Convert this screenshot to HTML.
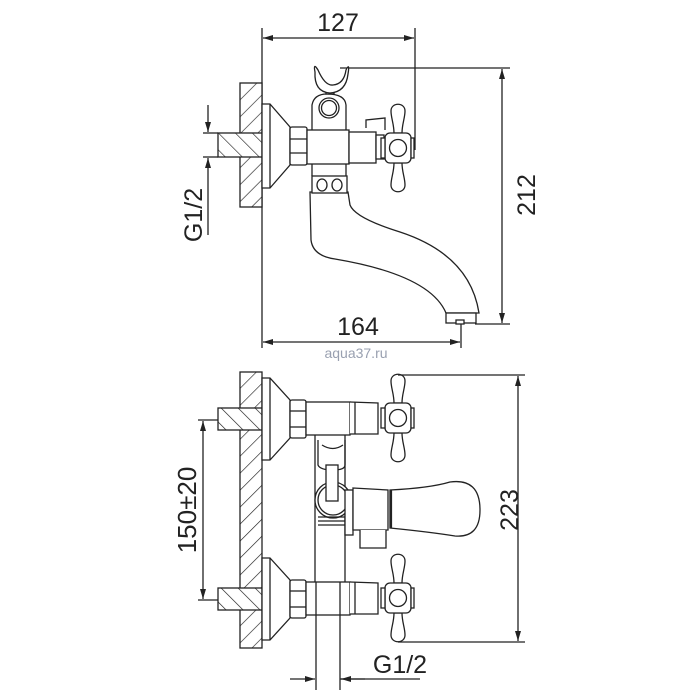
<!DOCTYPE html>
<html><head><meta charset="utf-8"><style>
html,body{margin:0;padding:0;background:#fff;}
svg{display:block;}
text{font-family:"Liberation Sans",sans-serif;fill:#222;}
</style></head><body>
<svg width="700" height="700" viewBox="0 0 700 700" xmlns="http://www.w3.org/2000/svg">
<defs>
<pattern id="h" patternUnits="userSpaceOnUse" width="12" height="12" patternTransform="rotate(45)">
<rect width="12" height="12" fill="#fff"/><line x1="0" y1="0" x2="0" y2="12" stroke="#222" stroke-width="1.3"/>
</pattern>
<pattern id="h2" patternUnits="userSpaceOnUse" width="12" height="12" patternTransform="rotate(-45)">
<rect width="12" height="12" fill="#fff"/><line x1="0" y1="0" x2="0" y2="12" stroke="#222" stroke-width="1.3"/>
</pattern>
<g id="cross">
<path d="M-4,-15 C-4,-24 -7,-30 -7,-37 C-7,-46 7,-46 7,-37 C7,-30 4,-24 4,-15 Z" fill="#fff"/>
<path d="M-4,15 C-4,24 -7,30 -7,37 C-7,46 7,46 7,37 C7,30 4,24 4,15 Z" fill="#fff"/>
<rect x="-13" y="-15" width="26" height="30" rx="5" fill="#fff"/>
<circle r="8.5" fill="#fff"/>
<rect x="13" y="-10" width="3" height="20" fill="#fff"/>
<rect x="-17" y="-10" width="4" height="20" fill="#fff"/>
</g>
<g id="flangeSet">
<rect x="218" y="0" width="44" height="22" fill="url(#h2)"/>
<path d="M262,-30 L270,-30 L290,-8 L290,30 L270,52 L262,52 Z" fill="#fff"/>
<line x1="270" y1="-30" x2="270" y2="52"/>
<rect x="290" y="-8" width="16" height="38" rx="2" fill="#fff"/>
<line x1="290" y1="3" x2="306" y2="3"/><line x1="290" y1="19" x2="306" y2="19"/>
</g>
<marker id="a" viewBox="0 0 10 6" refX="10" refY="3" markerWidth="10" markerHeight="6" orient="auto-start-reverse" markerUnits="userSpaceOnUse">
<path d="M0,0 L10,3 L0,6 Z" fill="#222"/></marker>
</defs>
<g stroke="#222" stroke-width="1.3" fill="none">
<line x1="262" y1="28" x2="262" y2="348"/>
<line x1="415" y1="28" x2="415" y2="150"/>
<line x1="263" y1="38" x2="414" y2="38" marker-start="url(#a)" marker-end="url(#a)"/>
<line x1="340" y1="68" x2="510" y2="68"/>
<line x1="475" y1="324" x2="510" y2="324"/>
<line x1="502" y1="69" x2="502" y2="323" marker-start="url(#a)" marker-end="url(#a)"/>
<line x1="461" y1="318" x2="461" y2="348"/>
<line x1="263" y1="342" x2="460" y2="342" marker-start="url(#a)" marker-end="url(#a)"/>
<line x1="203" y1="133" x2="218" y2="133"/><line x1="203" y1="157" x2="218" y2="157"/>
<line x1="208" y1="105" x2="208" y2="132" marker-end="url(#a)"/>
<line x1="208" y1="235" x2="208" y2="158" marker-end="url(#a)"/>
<rect x="240" y="83" width="22" height="124" fill="url(#h)"/>
<rect x="218" y="133" width="44" height="24" fill="url(#h2)"/>
<path d="M262,104 L270,104 L290,127 L290,165 L270,188 L262,188 Z" fill="#fff"/>
<line x1="270" y1="104" x2="270" y2="188"/>
<rect x="290" y="127" width="17" height="38" rx="2" fill="#fff"/>
<line x1="290" y1="139" x2="307" y2="139"/><line x1="290" y1="153" x2="307" y2="153"/>
<path d="M310,192 L311,240 Q313,256 335,259 Q430,275 446,313 L479,313 Q470,255 400,232 Q355,218 350,205 L348,192 Z" fill="#fff"/>
<rect x="446" y="313" width="30" height="10" fill="#fff"/>
<rect x="456" y="320" width="8" height="4" fill="#fff"/>
<rect x="312" y="176" width="35" height="17" fill="#fff"/>
<ellipse cx="322" cy="185" rx="5" ry="6"/><ellipse cx="337" cy="185" rx="5" ry="6"/>
<path d="M312,130 L312,105 Q314,94 327,94 Q345,94 346,105 L346,130" fill="#fff"/>
<circle cx="329" cy="108" r="10"/><circle cx="329" cy="108" r="7.5"/>
<rect x="326" y="86" width="8" height="8" fill="#fff"/>
<path d="M315,72 Q313,62 318,70 Q325,86 333,85 Q344,84 346,70 Q350,62 348,74 Q346,92 330,93 Q314,92 315,72 Z" fill="#fff"/>
<rect x="307" y="130" width="42" height="34" fill="#fff"/>
<path d="M312,164 L312,176 M346,164 L346,176"/>
<rect x="349" y="132" width="27" height="31" fill="#fff"/>
<path d="M366,128 L366,120 L385,118 L385,130" fill="#fff"/>
<rect x="376" y="135" width="8" height="24" fill="#fff"/>
<use href="#cross" x="398" y="148"/>
<rect x="240" y="372" width="22" height="276" fill="url(#h)"/>
<use href="#flangeSet" x="0" y="408"/>
<use href="#flangeSet" x="0" y="588"/>
<rect x="306" y="402" width="44" height="33" fill="#fff"/>
<path d="M350,402 L378,403 L378,434 L350,434" fill="#fff"/>
<line x1="355" y1="402" x2="355" y2="434"/>
<use href="#cross" x="398" y="418"/>
<rect x="306" y="582" width="44" height="33" fill="#fff"/>
<path d="M350,582 L378,583 L378,614 L350,614" fill="#fff"/>
<line x1="355" y1="582" x2="355" y2="614"/>
<use href="#cross" x="398" y="598"/>
<path d="M315,435 L315,582 M345,435 L345,582"/>
<path d="M318,440 L318,465 Q320,470 333,470 Q345,470 345,465 L345,440"/>
<path d="M322,445 Q333,452 343,445"/>
<circle cx="333" cy="500" r="18" fill="#fff"/><circle cx="333" cy="500" r="15"/>
<rect x="326" y="465" width="12" height="36" fill="#fff"/>
<path d="M318,517 L347,517 M318,521 L347,521 M318,525 L347,525"/>
<line x1="316" y1="582" x2="316" y2="690"/><line x1="340" y1="582" x2="340" y2="690"/>
<rect x="345" y="490" width="8" height="45" fill="#fff"/>
<path d="M353,488 L388,490 L388,530 L353,530 Z" fill="#fff"/>
<path d="M360,530 L360,548 L386,548 L386,530" fill="#fff"/>
<path d="M390,490 Q430,488 450,482 Q480,478 480,510 Q480,538 455,536 Q430,532 390,528 Z" fill="#fff"/>
<line x1="391" y1="490" x2="391" y2="528" stroke-width="2.2"/>
<line x1="398" y1="375" x2="525" y2="375"/>
<line x1="398" y1="642" x2="525" y2="642"/>
<line x1="518" y1="376" x2="518" y2="641" marker-start="url(#a)" marker-end="url(#a)"/>
<line x1="198" y1="420" x2="218" y2="420"/><line x1="198" y1="600" x2="218" y2="600"/>
<line x1="203" y1="421" x2="203" y2="599" marker-start="url(#a)" marker-end="url(#a)"/>
<line x1="290" y1="679" x2="315" y2="679" marker-end="url(#a)"/>
<line x1="365" y1="679" x2="341" y2="679" marker-end="url(#a)"/>
<line x1="340" y1="679" x2="420" y2="679"/>
</g>
<text x="338" y="31" font-size="25" text-anchor="middle">127</text>
<text x="358" y="335" font-size="25" text-anchor="middle">164</text>
<text x="356" y="358" font-size="14" text-anchor="middle" style="fill:#99a0b0">aqua37.ru</text>
<text transform="translate(535,195) rotate(-90)" font-size="25" text-anchor="middle">212</text>
<text transform="translate(202,215) rotate(-90)" font-size="25" text-anchor="middle">G1/2</text>
<text transform="translate(518,510) rotate(-90)" font-size="25" text-anchor="middle">223</text>
<text transform="translate(196,510) rotate(-90)" font-size="26" text-anchor="middle">150±20</text>
<text x="400" y="673" font-size="25" text-anchor="middle">G1/2</text>
</svg>
</body></html>
